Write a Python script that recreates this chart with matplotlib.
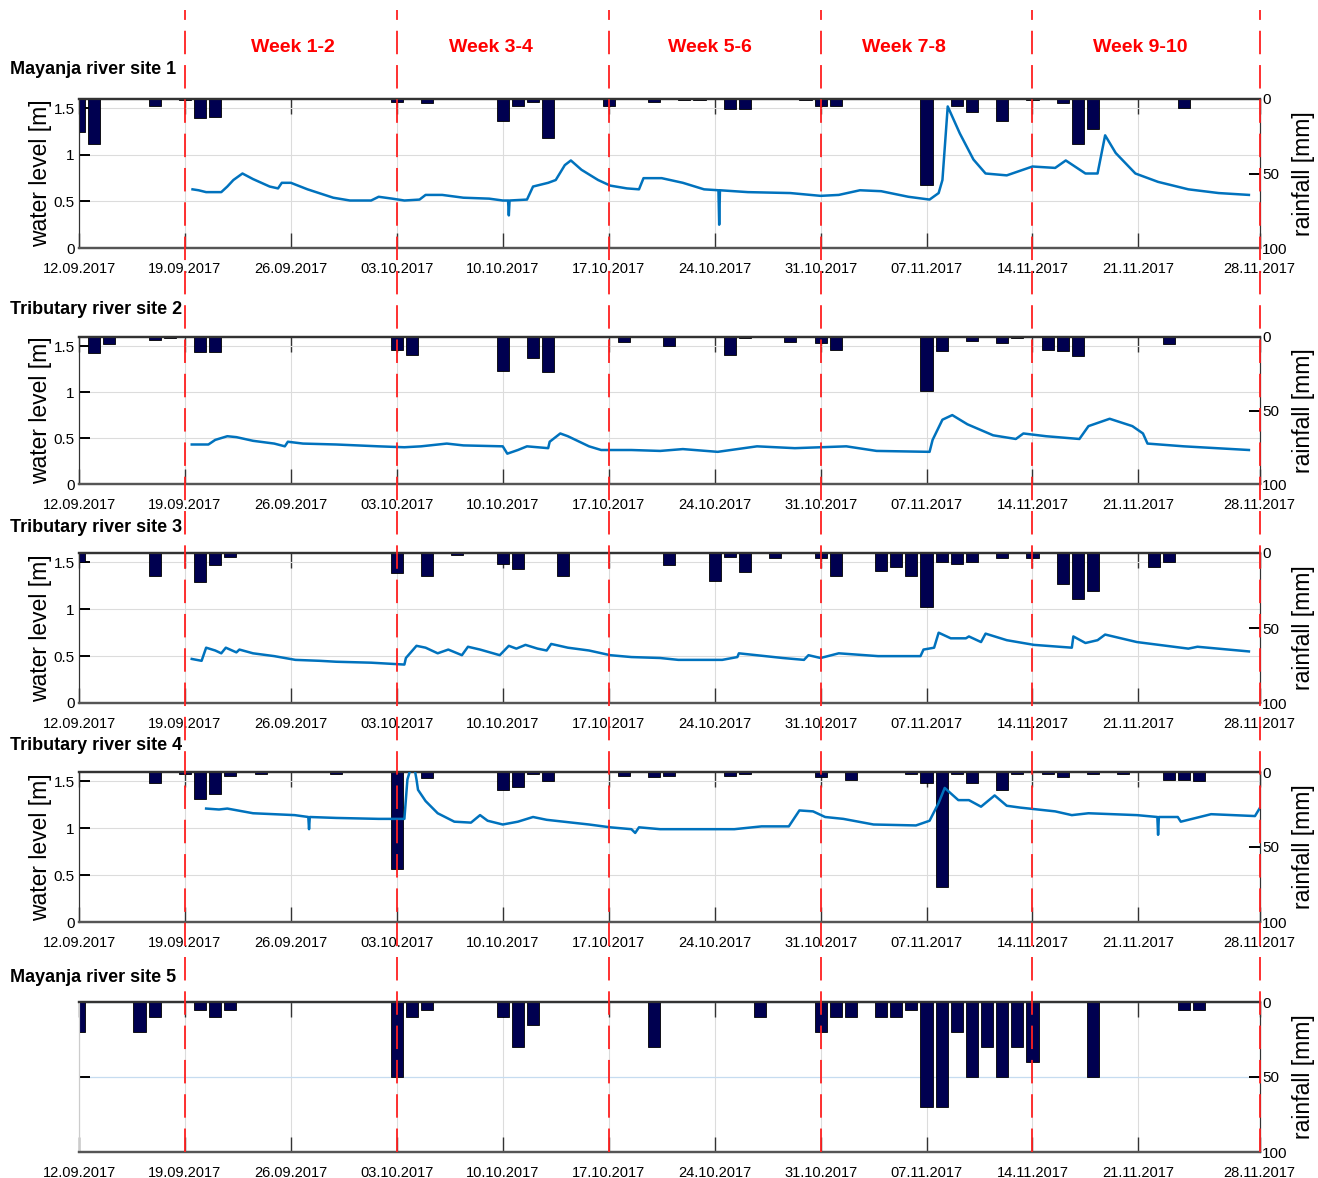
import matplotlib
matplotlib.use('Agg')
import matplotlib.pyplot as plt
from matplotlib.lines import Line2D
from matplotlib.transforms import blended_transform_factory

narrow = ['Liberation Sans Narrow', 'Liberation Sans', 'DejaVu Sans']
plain = ['Liberation Sans', 'DejaVu Sans']
plt.rcParams['font.family'] = narrow

# x axis: days after 12.09.2017
tick_days = [0, 7, 14, 21, 28, 35, 42, 49, 56, 63, 70, 78]
tick_labels = ['12.09.2017', '19.09.2017', '26.09.2017', '03.10.2017', '10.10.2017',
               '17.10.2017', '24.10.2017', '31.10.2017', '07.11.2017', '14.11.2017',
               '21.11.2017', '28.11.2017']
week_bounds = [7, 21, 35, 49, 63, 78]
week_names = ['Week 1-2', 'Week 3-4', 'Week 5-6', 'Week 7-8', 'Week 9-10']
week_label_days = [14.1, 27.2, 41.7, 54.5, 70.1]

site_names = ['Mayanja river site 1', 'Tributary river site 2', 'Tributary river site 3',
              'Tributary river site 4', 'Mayanja river site 5']

# daily rainfall [mm]
rain1_days = [0, 1, 5, 7, 8, 9, 21, 23, 28, 29, 30, 31, 35, 38, 40, 41, 43, 44, 48, 49, 50,
              56, 58, 59, 61, 63, 65, 66, 67, 73]
rain1_mm = [22, 30, 5, 1, 13, 12, 2, 3, 15, 4.5, 2, 26, 4.5, 2, 1, 1, 7, 7, 1, 4.5, 4.5,
            58, 5, 9, 15, 1, 3, 30, 20, 6]

rain2_days = [1, 2, 5, 6, 8, 9, 21, 22, 28, 30, 31, 36, 39, 43, 44, 47, 49, 50, 56, 57, 59,
              61, 62, 64, 65, 66, 72]
rain2_mm = [11, 5, 2, 1, 10, 10, 8.6, 12, 23, 14, 24, 3.4, 6, 12.5, 1, 3.4, 4, 8.6, 37, 9.3,
            2.5, 4, 1, 8.6, 9.3, 13, 5]

rain3_days = [0, 5, 8, 9, 10, 21, 23, 25, 28, 29, 32, 39, 42, 43, 44, 46, 49, 50, 53, 54, 55,
              56, 57, 58, 59, 61, 63, 65, 66, 67, 71, 72]
rain3_mm = [6, 15.6, 19.4, 8.3, 3, 13.4, 15.6, 1.5, 7.4, 10.5, 15.6, 8, 18.5, 3, 13, 3.6, 3.6,
            15.6, 12, 9.6, 15.6, 35.7, 5.8, 7.4, 5.8, 3.6, 3.6, 20.5, 30.6, 25, 9.6, 5.8]

rain4_days = [5, 7, 8, 9, 10, 12, 17, 21, 23, 28, 29, 30, 31, 36, 38, 39, 43, 44, 49, 51, 55,
              56, 57, 58, 59, 61, 62, 64, 65, 67, 69, 72, 73, 74]
rain4_mm = [7.4, 1, 18, 14.5, 2.5, 1, 1, 64.5, 4.2, 11.8, 10.3, 1, 6.3, 2.5, 3.5, 2.5, 2.5, 1,
            3.6, 5.6, 1, 7.4, 76.5, 1, 7.4, 11.8, 1, 1, 3.6, 1, 1, 5, 5, 6.3]

rain5_days = [0, 4, 5, 8, 9, 10, 21, 22, 23, 28, 29, 30, 38, 45, 49, 50, 51, 53, 54, 55, 56,
              57, 58, 59, 60, 61, 62, 63, 67, 73, 74]
rain5_mm = [20, 20, 10, 5, 10, 5, 50, 10, 5, 10, 30, 15, 30, 10, 20, 10, 10, 10, 10, 5, 70,
            70, 20, 50, 30, 50, 30, 40, 50, 5, 5]

# water level [m]
level1_days = [7.5, 7.9, 8.4, 9.4, 9.8, 10.2, 10.8, 11.5, 12.6, 13.15, 13.4, 14.0, 15.1, 16.8,
               17.9, 19.3, 19.8, 20.7, 21.5, 22.5, 22.9, 24, 25.4, 27.1, 28.0, 28.35, 28.4,
               28.45, 29.6, 30.0, 31.0, 31.5, 32.1, 32.5, 33.2, 34.3, 35.1, 36.2, 37.0, 37.3,
               38.5, 39.9, 41.3, 42.25, 42.3, 42.35, 44.2, 47, 49, 50.2, 51.6, 53, 54.8, 56.2,
               56.8, 57.05, 57.4, 58.2, 59.1, 59.9, 61.3, 63, 64.5, 65.2, 66.5, 67.3, 67.8,
               68.5, 69.8, 71.3, 73.3, 75.3, 77.3]
level1_m = [0.63, 0.62, 0.60, 0.60, 0.66, 0.73, 0.80, 0.74, 0.66, 0.64, 0.70, 0.70, 0.63, 0.54,
            0.51, 0.51, 0.55, 0.53, 0.51, 0.52, 0.57, 0.57, 0.54, 0.53, 0.51, 0.51, 0.35,
            0.51, 0.52, 0.66, 0.70, 0.73, 0.89, 0.94, 0.84, 0.73, 0.67, 0.64, 0.63, 0.75,
            0.75, 0.70, 0.63, 0.62, 0.25, 0.62, 0.60, 0.59, 0.56, 0.57, 0.62, 0.61, 0.55, 0.52,
            0.59, 0.73, 1.52, 1.23, 0.95, 0.80, 0.78, 0.875, 0.86, 0.94, 0.80, 0.80, 1.21,
            1.02, 0.80, 0.71, 0.63, 0.59, 0.57]

level2_days = [7.45, 8.55, 9.0, 9.8, 10.4, 11.5, 12.9, 13.6, 13.8, 14.8, 17, 19.8, 21.5, 22.6,
               24.3, 25.4, 28, 28.3, 29, 29.6, 31, 31.1, 31.8, 32.3, 33.7, 34.5, 36.5, 38.4,
               39.9, 42.2, 44.8, 47.3, 49, 50.7, 52.7, 56.2, 56.4, 57.05, 57.7, 58.7, 60.4,
               61.9, 62.4, 63.9, 66.1, 66.7, 68.1, 69.6, 70.3, 70.6, 73, 77.3]
level2_m = [0.43, 0.43, 0.48, 0.52, 0.51, 0.47, 0.44, 0.41, 0.46, 0.44, 0.43, 0.41, 0.40, 0.41,
            0.44, 0.42, 0.41, 0.33, 0.37, 0.41, 0.39, 0.46, 0.55, 0.52, 0.41, 0.37, 0.37, 0.36,
            0.38, 0.35, 0.41, 0.39, 0.40, 0.41, 0.36, 0.35, 0.48, 0.70, 0.75, 0.65, 0.53,
            0.49, 0.55, 0.52, 0.49, 0.63, 0.71, 0.63, 0.55, 0.44, 0.41, 0.37]

level3_days = [7.45, 8.1, 8.4, 9.0, 9.4, 9.7, 10.4, 10.6, 11.5, 12.9, 14.3, 15.9, 17, 19.3,
               20.4, 21.5, 21.6, 22.3, 22.9, 23.7, 24.4, 25.3, 25.7, 26.5, 27.8, 28.4, 28.9,
               29.5, 30.3, 30.9, 31.2, 32.3, 33.7, 35.1, 36.5, 38.4, 39.6, 42.5, 43.5, 43.6,
               46.5, 47.9, 48.2, 49, 50.2, 52.8, 55.6, 55.8, 56.5, 56.8, 57.6, 58.6, 58.8,
               59.6, 59.9, 61.3, 63.1, 65.6, 65.7, 66.5, 67.3, 67.8, 69.9, 73.3, 73.9, 77.3]
level3_m = [0.47, 0.45, 0.59, 0.56, 0.53, 0.59, 0.54, 0.57, 0.53, 0.50, 0.46, 0.45, 0.44, 0.43,
            0.42, 0.41, 0.48, 0.61, 0.59, 0.53, 0.57, 0.51, 0.60, 0.57, 0.51, 0.61, 0.58,
            0.62, 0.58, 0.56, 0.63, 0.59, 0.56, 0.51, 0.49, 0.48, 0.46, 0.46, 0.49, 0.53,
            0.48, 0.46, 0.51, 0.48, 0.53, 0.50, 0.50, 0.57, 0.59, 0.75, 0.69, 0.69, 0.71,
            0.65, 0.74, 0.67, 0.62, 0.59, 0.71, 0.64, 0.67, 0.73, 0.65, 0.58, 0.60, 0.55]

level4_days = [8.4, 9.25, 9.8, 11.5, 14.25, 15.15, 15.2, 15.25, 17, 19.8, 21.5, 21.7, 21.9,
               22.2, 22.3, 22.4, 22.9, 23.7, 24.8, 25.9, 26.5, 27.0, 28, 29, 30, 30.9, 33.7,
               35.1, 36.5, 36.75, 37, 38.4, 40.8, 43.3, 45.1, 46.9, 47.6, 48.5, 49.3, 50.5,
               52.5, 55.3, 56.2, 56.8, 57.2, 58.1, 58.8, 59.6, 60.5, 61.3, 62.2, 64.5, 65.6,
               66.7, 69.9, 71.25, 71.3, 71.35, 72.6, 72.8, 74.8, 77.7, 78.0]
level4_m = [1.21, 1.20, 1.21, 1.16, 1.14, 1.12, 0.99, 1.12, 1.11, 1.10, 1.10, 1.52, 1.63,
            1.61, 1.52, 1.41, 1.29, 1.16, 1.07, 1.06, 1.14, 1.08, 1.04, 1.07, 1.12, 1.09, 1.04,
            1.01, 0.99, 0.95, 1.01, 0.99, 0.99, 0.99, 1.02, 1.02, 1.19, 1.18, 1.12, 1.10,
            1.04, 1.03, 1.08, 1.27, 1.43, 1.30, 1.30, 1.23, 1.35, 1.24, 1.22, 1.18, 1.14,
            1.16, 1.14, 1.12, 0.93, 1.12, 1.12, 1.07, 1.15, 1.13, 1.21]

rain_days = [rain1_days, rain2_days, rain3_days, rain4_days, rain5_days]
rain_mm = [rain1_mm, rain2_mm, rain3_mm, rain4_mm, rain5_mm]
level_days = [level1_days, level2_days, level3_days, level4_days, None]
level_m = [level1_m, level2_m, level3_m, level4_m, None]

W, H = 1318, 1178
# panel frames in pixels: (top, bottom), title y
panel_px = [(99, 248), (337, 484), (553, 703), (772, 922), (1002, 1152)]
title_px = [70, 309, 527, 745, 977]
x_left, x_right = 79, 1259.5

bar_color = '#000050'
line_color = '#0072BD'
grid_color = '#dcdcdc'
frame = '#333333'

fig = plt.figure(figsize=(W / 100, H / 100), dpi=100)
axes = []
for i in range(5):
    top, bot = panel_px[i]
    rect = [x_left / W, 1 - bot / H, (x_right - x_left) / W, (bot - top) / H]
    ax = fig.add_axes(rect)
    ax2 = ax.twinx()
    axes.append(ax)

    ax.set_xlim(0, 78)
    ax.set_ylim(0, 1.6)

    ax2.bar(rain_days[i], rain_mm[i], width=0.8, color=bar_color, edgecolor='black',
            linewidth=0.6, zorder=2)
    if level_days[i] is not None:
        # water level drawn above the bars, in the left-axis scale
        ax2.plot(level_days[i], level_m[i], transform=ax.transData, color=line_color,
                 lw=1.8, zorder=3)
    ax2.set_ylim(100, 0)
    ax2.set_xlim(0, 78)

    ax.set_xticks(tick_days)
    ax.set_xticklabels(tick_labels)
    ax.xaxis.grid(True, color=grid_color, lw=0.8)
    if i < 4:
        ax.set_yticks([0, 0.5, 1, 1.5])
        ax.set_yticklabels(['0', '0.5', '1', '1.5'])
        ax.yaxis.grid(True, color=grid_color, lw=0.8)
        ax.set_ylabel('water level [m]', fontsize=16.5, family=plain, labelpad=1)
    else:
        ax.set_yticks([0, 0.8, 1.6])
        ax.set_yticklabels(['', '', ''])
        ax.yaxis.grid(True, color='#c6dcf0', lw=0.9)
    ax2.set_yticks([0, 50, 100])
    ax2.set_yticklabels(['0', '50', '100'])
    ax2.set_ylabel('rainfall [mm]', fontsize=16.5, family=plain, labelpad=3)

    ax.tick_params(axis='x', direction='in', length=11, width=1, top=True, bottom=True,
                   labelsize=10.5, pad=10, color=frame)
    ax.tick_params(axis='y', direction='in', length=8, width=1.4, labelsize=11, pad=3,
                   color='black')
    ax2.tick_params(axis='y', direction='in', length=8, width=1.4, labelsize=11, pad=2,
                    color='black')

    for a in (ax, ax2):
        a.spines['top'].set_color(frame)
        a.spines['top'].set_linewidth(1.6)
        a.spines['bottom'].set_color('#555555')
        a.spines['bottom'].set_linewidth(1.6)
        a.spines['left'].set_color(frame if i < 4 else '#cccccc')
        a.spines['right'].set_color(frame)

    fig.text(10 / W, 1 - title_px[i] / H, site_names[i], fontsize=13, fontweight='bold',
             family=plain, va='center', ha='left')

# red dashed period boundaries across the whole figure
trans = blended_transform_factory(axes[0].transData, fig.transFigure)
for d in week_bounds:
    fig.add_artist(Line2D([d, d], [1 - 1152 / H, 1 - 10 / H], transform=trans,
                          color='#ff2020', lw=1.3, ls=(0, (13, 6)), zorder=5))

for name, d in zip(week_names, week_label_days):
    fig.text(d, 1 - 47 / H, name, transform=trans, color='#ff0000', fontsize=14,
             fontweight='bold', ha='center', va='center')

fig.savefig('out.png', dpi=100)
